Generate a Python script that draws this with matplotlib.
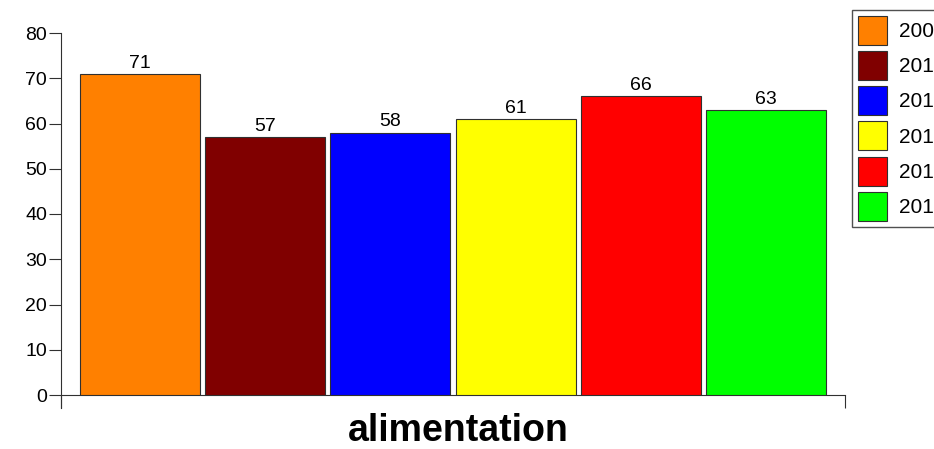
import matplotlib
matplotlib.use("Agg")
import matplotlib.pyplot as plt
import numpy as np

plt.rcParams['font.family'] = ['Liberation Sans', 'DejaVu Sans']

# data
years = ['2009', '2010', '2011', '2012', '2013', '2014']
values = [71, 57, 58, 61, 66, 63]
colors = ['#FF8000', '#800000', '#0000FF', '#FFFF00', '#FF0000', '#00FF00']
category = 'alimentation'
y_ticks = [0, 10, 20, 30, 40, 50, 60, 70, 80]

W, H = 934, 449
fig = plt.figure(figsize=(W / 100, H / 100), dpi=100, facecolor='white')
ax = fig.add_axes([61 / W, (H - 395) / H, 784 / W, (395 - 33) / H])

x = np.arange(len(values))
bars = ax.bar(x, values, width=0.96, color=colors, edgecolor='#303030',
              linewidth=0.8, label=years, zorder=3)

for xi, v in zip(x, values):
    ax.annotate(f"{v}", (xi, v), xytext=(0, 1.5), textcoords='offset points',
                ha='center', va='bottom', fontsize=14, color='black')

ax.set_xlim(-0.63, len(values) - 1 + 0.63)
ax.set_ylim(0, 80)
ax.set_yticks(y_ticks)
ax.set_yticklabels([str(t) for t in y_ticks], fontsize=14)
ax.set_xticks([-0.63, len(values) - 1 + 0.63])
ax.set_xticklabels(['', ''])
ax.tick_params(axis='y', direction='out', length=9, width=0.8, color='#303030', pad=1)
ax.tick_params(axis='x', direction='out', length=9, width=0.8, color='#303030')

for s in ['top', 'right']:
    ax.spines[s].set_visible(False)
ax.spines['left'].set_color('#303030')
ax.spines['bottom'].set_color('#303030')
ax.spines['left'].set_bounds(-2.9, 80)

fig.text(458 / W, 1 - 431 / H, category, ha='center', va='center',
         fontsize=27, fontweight='bold')

# legend runs off the right edge, as in the original
leg = fig.legend(handles=list(bars), labels=years, loc='upper left',
                 bbox_to_anchor=(852 / W, 1 - 10 / H), bbox_transform=fig.transFigure,
                 borderaxespad=0, fontsize=15, handlelength=1.4, handleheight=1.76,
                 labelspacing=0.3, handletextpad=0.6, borderpad=0.28,
                 fancybox=False, shadow=False, framealpha=1)
leg.get_frame().set_edgecolor('#505050')
leg.get_frame().set_linewidth(1.0)

fig.savefig('out.png', dpi=100, facecolor='white')
